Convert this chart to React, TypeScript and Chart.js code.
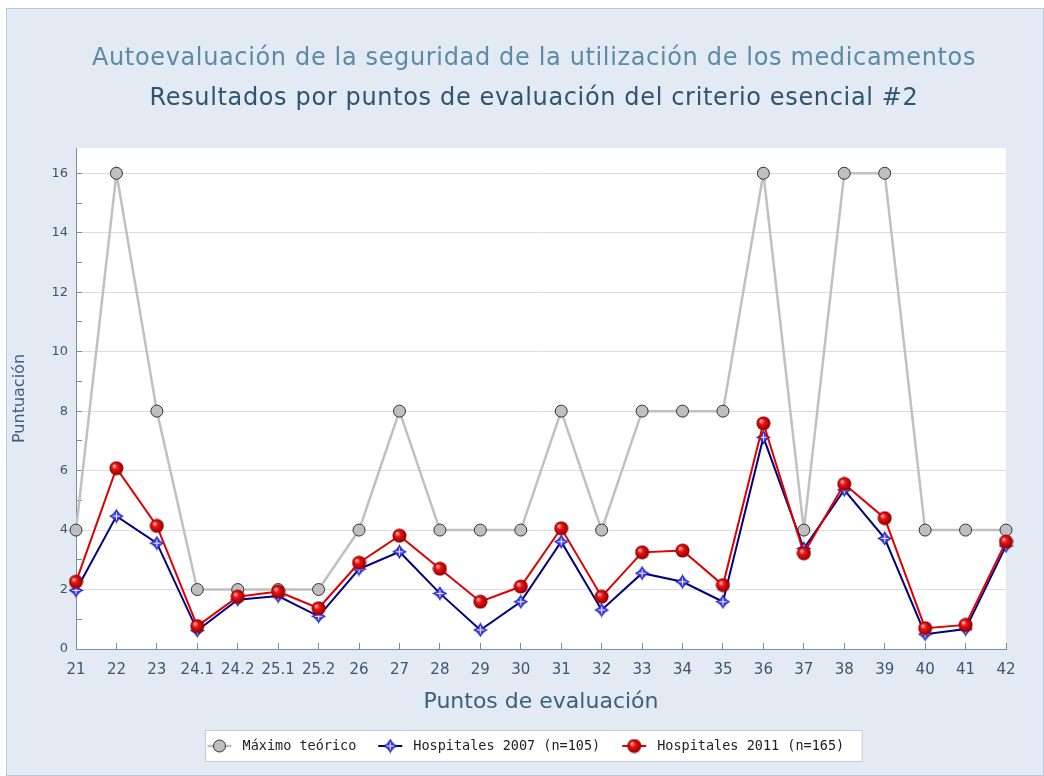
import { useEffect, useRef } from 'react';
import { Chart, registerables } from 'chart.js';

Chart.register(...registerables);

const categories = ['21', '22', '23', '24.1', '24.2', '25.1', '25.2', '26', '27', '28', '29', '30', '31', '32', '33', '34', '35', '36', '37', '38', '39', '40', '41', '42'];
const maximoTeorico = [4, 16, 8, 2, 2, 2, 2, 4, 8, 4, 4, 4, 8, 4, 8, 8, 8, 16, 4, 16, 16, 4, 4, 4];
const hospitales2007 = [1.97, 4.47, 3.56, 0.62, 1.66, 1.78, 1.1, 2.69, 3.27, 1.87, 0.64, 1.59, 3.61, 1.31, 2.55, 2.26, 1.59, 7.12, 3.38, 5.35, 3.72, 0.5, 0.67, 3.47];
const hospitales2011 = [2.26, 6.08, 4.14, 0.77, 1.76, 1.93, 1.37, 2.9, 3.81, 2.7, 1.59, 2.1, 4.06, 1.76, 3.25, 3.31, 2.15, 7.59, 3.22, 5.55, 4.4, 0.7, 0.81, 3.61];
const yTickValues = [0, 1, 2, 3, 4, 5, 6, 7, 8, 9, 10, 11, 12, 13, 14, 15, 16];
const seriesLabels = ['Máximo teórico', 'Hospitales 2007 (n=105)', 'Hospitales 2011 (n=165)'];
const titleText = 'Autoevaluación de la seguridad de la utilización de los medicamentos';
const subtitleText = 'Resultados por puntos de evaluación del criterio esencial #2';
const xTitle = 'Puntos de evaluación';
const yTitle = 'Puntuación';

function makeStar(): HTMLCanvasElement {
  const s = 15;
  const c = document.createElement('canvas');
  c.width = s;
  c.height = s;
  const g = c.getContext('2d')!;
  const m = s / 2;
  const k = 2.2;
  g.beginPath();
  g.moveTo(m, 0);
  g.quadraticCurveTo(m + k, m - k, s, m);
  g.quadraticCurveTo(m + k, m + k, m, s);
  g.quadraticCurveTo(m - k, m + k, 0, m);
  g.quadraticCurveTo(m - k, m - k, m, 0);
  g.closePath();
  const grad = g.createRadialGradient(m, m, 0, m, m, m);
  grad.addColorStop(0, '#7f7fff');
  grad.addColorStop(0.45, '#2a2ad8');
  grad.addColorStop(1, '#10107e');
  g.fillStyle = grad;
  g.fill();
  g.strokeStyle = 'rgba(255,255,255,0.85)';
  g.lineWidth = 1;
  g.beginPath();
  g.moveTo(m, m - 4);
  g.lineTo(m, m + 4);
  g.moveTo(m - 4, m);
  g.lineTo(m + 4, m);
  g.stroke();
  return c;
}

function makeSphere(): HTMLCanvasElement {
  const s = 15;
  const c = document.createElement('canvas');
  c.width = s;
  c.height = s;
  const g = c.getContext('2d')!;
  const m = s / 2;
  const grad = g.createRadialGradient(m - 2.5, m - 2.5, 0.5, m, m, 7);
  grad.addColorStop(0, '#ffb4b4');
  grad.addColorStop(0.35, '#f01212');
  grad.addColorStop(1, '#8a0000');
  g.fillStyle = grad;
  g.beginPath();
  g.arc(m, m, 7, 0, Math.PI * 2);
  g.fill();
  return c;
}

export default function App() {
  const ref = useRef<HTMLCanvasElement | null>(null);

  useEffect(() => {
    if (!ref.current) return;
    const star = makeStar();
    const sphere = makeSphere();
    const axisColor = '#7391a6';
    const tickText = '#3a5670';

    const panelPlugin = {
      id: 'panelDecor',
      beforeDraw(chart: any) {
        const { ctx, chartArea } = chart;
        ctx.save();
        ctx.fillStyle = '#ffffff';
        ctx.fillRect(chartArea.left, chartArea.top, chartArea.right - chartArea.left, chartArea.bottom - chartArea.top);
        ctx.restore();
      },
      afterDraw(chart: any) {
        const { ctx } = chart;
        ctx.save();
        ctx.textAlign = 'center';
        ctx.textBaseline = 'middle';
        ctx.font = '24px "DejaVu Sans"';
        (ctx as any).letterSpacing = '0.65px';
        ctx.fillStyle = '#5b8aa6';
        ctx.fillText(titleText, 527, 50);
        ctx.fillStyle = '#2e5570';
        ctx.fillText(subtitleText, 527, 90);
        (ctx as any).letterSpacing = '0px';

        // legend
        ctx.font = '13.5px "DejaVu Sans Mono"';
        const widths = seriesLabels.map((t) => ctx.measureText(t).width);
        const iconW = 24;
        const gapIT = 11;
        const gapItems = 22;
        const padL = 2;
        const padR = 18;
        const total = padL + padR + widths.reduce((a, w) => a + iconW + gapIT + w, 0) + gapItems * (seriesLabels.length - 1);
        const left = 205.5 - 7;
        const top = 721.5;
        const h = 31;
        const cy = top + h / 2;
        ctx.fillStyle = '#ffffff';
        ctx.fillRect(left, top, total, h);
        ctx.strokeStyle = '#c2cdd7';
        ctx.lineWidth = 1;
        ctx.strokeRect(left, top, total, h);
        let x = left + padL;
        chart.data.datasets.forEach((ds: any, i: number) => {
          ctx.strokeStyle = ds.borderColor;
          ctx.lineWidth = ds.borderWidth;
          ctx.beginPath();
          ctx.moveTo(x, cy);
          ctx.lineTo(x + iconW, cy);
          ctx.stroke();
          const mx = x + iconW / 2;
          if (ds.pointStyle === 'circle') {
            ctx.beginPath();
            ctx.arc(mx, cy, ds.pointRadius, 0, Math.PI * 2);
            ctx.fillStyle = ds.pointBackgroundColor;
            ctx.fill();
            ctx.lineWidth = ds.pointBorderWidth;
            ctx.strokeStyle = ds.pointBorderColor;
            ctx.stroke();
          } else {
            const img = ds.pointStyle as HTMLCanvasElement;
            ctx.drawImage(img, mx - img.width / 2, cy - img.height / 2);
          }
          x += iconW + gapIT;
          ctx.fillStyle = '#222222';
          ctx.textAlign = 'left';
          ctx.fillText(seriesLabels[i], x, cy + 0.5);
          x += widths[i] + gapItems;
        });
        ctx.restore();
      },
    };

    const chart = new Chart(ref.current, {
      type: 'line',
      data: {
        labels: categories,
        datasets: [
          {
            label: seriesLabels[0],
            data: maximoTeorico,
            borderColor: '#c0c0c0',
            borderWidth: 2.5,
            pointStyle: 'circle',
            pointRadius: 6,
            pointBackgroundColor: '#bfbfbf',
            pointBorderColor: '#333333',
            pointBorderWidth: 1,
            tension: 0,
            order: 3,
            clip: false,
          } as any,
          {
            label: seriesLabels[1],
            data: hospitales2007,
            borderColor: '#000080',
            borderWidth: 2,
            pointStyle: star,
            pointRadius: 7,
            tension: 0,
            order: 2,
            clip: false,
          } as any,
          {
            label: seriesLabels[2],
            data: hospitales2011,
            borderColor: '#e00000',
            borderWidth: 2,
            pointStyle: sphere,
            pointRadius: 7,
            tension: 0,
            order: 1,
            clip: false,
          } as any,
        ],
      },
      options: {
        responsive: false,
        maintainAspectRatio: false,
        animation: false,
        events: [],
        layout: { padding: { top: 139, right: 37, bottom: 56, left: 0 } },
        plugins: {
          legend: { display: false },
          tooltip: { enabled: false },
          title: { display: false },
        },
        scales: {
          x: {
            type: 'category',
            offset: false,
            border: { display: true, color: axisColor, width: 1 },
            grid: {
              drawOnChartArea: false,
              drawTicks: true,
              tickLength: -6,
              tickColor: axisColor,
            },
            ticks: {
              autoSkip: false,
              maxRotation: 0,
              minRotation: 0,
              padding: 18,
              color: tickText,
              font: { family: '"DejaVu Sans"', size: 15 },
            },
            title: {
              display: true,
              text: xTitle,
              color: '#3c5f7c',
              font: { family: '"DejaVu Sans"', size: 22 },
              padding: { top: 0, bottom: 4 },
            },
            afterFit: (scale: any) => {
              scale.height = 70;
            },
          },
          y: {
            type: 'linear',
            min: 0,
            max: 16.85,
            border: { display: true, color: axisColor, width: 1 },
            grid: {
              drawTicks: true,
              tickLength: -6,
              tickColor: axisColor,
              color: (c: any) => (c.tick && c.tick.value % 2 === 0 && c.tick.value !== 0 ? '#dcdcdc' : 'rgba(0,0,0,0)'),
              lineWidth: 1,
            },
            afterBuildTicks: (scale: any) => {
              scale.ticks = yTickValues.map((v) => ({ value: v }));
            },
            ticks: {
              padding: 14,
              color: tickText,
              font: { family: '"DejaVu Sans"', size: 13 },
              callback: (v: any) => (Number(v) % 2 === 0 ? String(v) : ''),
            },
            title: {
              display: true,
              text: yTitle,
              color: '#3c5f7c',
              font: { family: '"DejaVu Sans"', size: 16 },
              padding: { top: 3, bottom: 0 },
            },
            afterFit: (scale: any) => {
              scale.width = 69;
            },
          },
        },
      },
      plugins: [panelPlugin],
    });

    return () => chart.destroy();
  }, []);

  return (
    <div
      style={{
        position: 'fixed',
        left: 6,
        top: 8,
        width: 1036,
        height: 766,
        border: '1px solid #b9c9d6',
        background: '#e3eaf3',
      }}
    >
      <canvas ref={ref} width={1036} height={766} style={{ display: 'block', width: 1036, height: 766 }} />
    </div>
  );
}
